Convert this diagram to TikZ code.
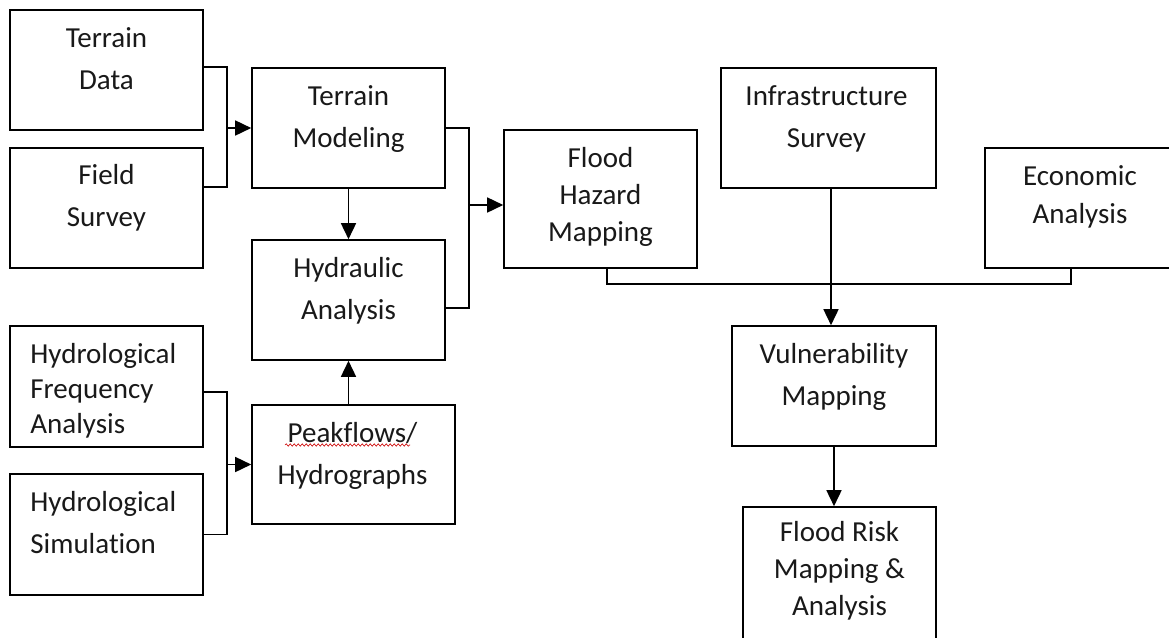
\documentclass[tikz,border=0pt]{standalone}
\usepackage{fontspec}
\setmainfont{Carlito}[Ligatures=NoCommon,RawFeature={-liga;-dlig}]
\usetikzlibrary{arrows.meta,calc,decorations.pathmorphing}
\begin{document}
\begin{tikzpicture}[x=1pt,y=-1pt,
  box/.style={draw=black, line width=1.6pt, rectangle, inner sep=0pt},
  ln/.style={draw=black, line width=1.6pt},
  arr/.style={draw=black, line width=1.6pt, -{Triangle[length=16pt,width=15pt]}},
  txt/.style={anchor=north, align=center, inner sep=0pt, text=black!90, font=\fontsize{29}{42}\selectfont},
  txtl/.style={anchor=north west, align=left, inner sep=0pt, text=black!90, font=\fontsize{29}{42}\selectfont}]
\useasboundingbox (0,0) rectangle (1169,637);
\fill[white] (0,0) rectangle (1169,637);

% boxes
\node[box, minimum width=193pt, minimum height=120pt] (td) at (106.5,70) {};
\node[box, minimum width=193pt, minimum height=120pt] (fs) at (106.5,208) {};
\node[box, minimum width=193pt, minimum height=120pt] (tm) at (348.5,128) {};
\node[box, minimum width=193pt, minimum height=120pt] (ha) at (348.5,300) {};
\node[box, minimum width=193pt, minimum height=121pt] (hf) at (106.5,386.5) {};
\node[box, minimum width=193pt, minimum height=121pt] (hs) at (106.5,534.5) {};
\node[box, minimum width=203pt, minimum height=119pt] (pk) at (353.5,464.5) {};
\node[box, minimum width=193pt, minimum height=138pt] (fh) at (600.5,199) {};
\node[box, minimum width=215pt, minimum height=120pt] (is) at (828.5,128) {};
\node[box, minimum width=190pt, minimum height=120pt] (ea) at (1080,208) {};
\node[box, minimum width=204pt, minimum height=120pt] (vm) at (834,386) {};
\node[box, minimum width=193pt, minimum height=143pt] (fr) at (839.5,578.5) {};

% texts
\node[txt] (tdT) at ($(td.north)+(0,17)$) {\rule{0pt}{21pt}Terrain\\Data};
\node[txt] (fsT) at ($(fs.north)+(0,16)$) {\rule{0pt}{21pt}Field\\Survey};
\node[txt] (tmT) at ($(tm.north)+(0,17.5)$) {\rule{0pt}{21pt}Terrain\\Modeling};
\node[txt] (haT) at ($(ha.north)+(0,17)$) {\rule{0pt}{21pt}Hydraulic\\Analysis};
\node[txtl, font=\fontsize{29}{35}\selectfont] (hfT) at ($(hf.north west)+(21,17.5)$) {\rule{0pt}{21pt}Hydrological\\Frequency\\Analysis};
\node[txtl] (hsT) at ($(hs.north west)+(21,17.5)$) {\rule{0pt}{21pt}Hydrological\\Simulation};
\node[txt] (pkT) at ($(pk.north)+(-1,17)$) {\rule{0pt}{21pt}Peakflows/\\Hydrographs};
\node[txt, font=\fontsize{29}{37}\selectfont] (fhT) at ($(fh.north)+(0,17)$) {\rule{0pt}{21pt}Flood\\Hazard\\Mapping};
\node[txt] (isT) at ($(is.north)+(-2,17.5)$) {\rule{0pt}{21pt}Infrastructure\\Survey};
\node[txt, font=\fontsize{29}{38}\selectfont] (eaT) at ($(ea.north)+(0,17.5)$) {\rule{0pt}{21pt}Economic\\Analysis};
\node[txt] (vmT) at ($(vm.north)+(0,17.5)$) {\rule{0pt}{21pt}Vulnerability\\Mapping};
\node[txt, font=\fontsize{29}{37}\selectfont] (frT) at ($(fr.north)+(0,14.5)$) {\rule{0pt}{21pt}Flood Risk\\Mapping \&\\Analysis};

% spell-check squiggle
\draw[red!80!black, line width=0.6pt, decorate, decoration={snake, amplitude=1.2pt, segment length=4pt}] (285,445) -- (410,445);

% helper coordinates
\coordinate (v1) at (227,0);
\coordinate (v2) at (469,0);
\coordinate (h1) at (0,284);
\coordinate (tdo) at ($(td.north east)+(0,58)$);
\coordinate (fso) at ($(fs.north east)+(0,40)$);
\coordinate (hao) at ($(ha.east)+(0,8)$);
\coordinate (fhi) at ($(fh.west)+(0,6)$);
\coordinate (hfo) at ($(hf.east)+(0,5.5)$);
\coordinate (fho) at ($(fh.south)+(6.5,0)$);
\coordinate (eao) at ($(ea.south)+(-9,0)$);
\coordinate (iso) at ($(is.south)+(2.5,0)$);

% connectors
\draw[ln] (tdo) -| (v1 |- fso) -- (fso);
\draw[arr] (v1 |- tm.west) -- (tm.west);
\draw[arr] (tm.south) -- (ha.north);
\draw[ln] (tm.east) -| (v2 |- hao) -- (hao);
\draw[arr] (v2 |- fhi) -- (fhi);
\draw[ln] (hfo) -| (v1 |- hs.east) -- (hs.east);
\draw[arr] (v1 |- pk.west) -- (pk.west);
\draw[arr] (ha.south |- pk.north) -- (ha.south);
\draw[ln] (fho) |- (h1 -| eao) -- (eao);
\draw[arr] (iso) -- (iso |- vm.north);
\draw[arr] (vm.south) -- (vm.south |- fr.north);
\end{tikzpicture}
\end{document}
